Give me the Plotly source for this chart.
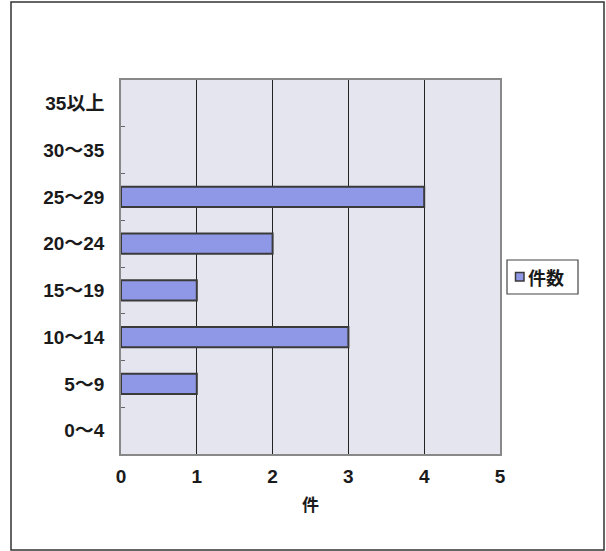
import plotly.graph_objects as go

categories = ["0～4", "5～9", "10～14", "15～19", "20～24", "25～29", "30～35", "35以上"]
counts = [0, 1, 3, 1, 2, 4, 0, 0]
x_ticks = [0, 1, 2, 3, 4, 5]
series_name = "件数"
x_title = "件"

W, H = 606, 551
L, R, T, B = 121, 500, 80, 454

font_family = "Liberation Sans, Arial, Noto Sans CJK JP, sans-serif"
bar_color = "#8F98E6"
bar_line = "#3A3A3A"

fig = go.Figure()
fig.add_trace(go.Bar(
    y=categories, x=counts, orientation="h", name=series_name,
    marker=dict(color=bar_color,
                line=dict(color=bar_line, width=[0 if v == 0 else 2 for v in counts])),
    width=0.43, showlegend=False,
))

def px_to_paper_x(px):
    return (px - L) / (R - L)

def px_to_paper_y(py):
    return (B - py) / (B - T)

# chart area border
fig.add_shape(type="rect", xref="paper", yref="paper",
              x0=px_to_paper_x(11), x1=px_to_paper_x(604),
              y0=px_to_paper_y(550), y1=px_to_paper_y(2),
              line=dict(color="#333333", width=1.5), layer="below")

# legend box (drawn manually to match the compact Excel legend)
fig.add_shape(type="rect", xref="paper", yref="paper",
              x0=px_to_paper_x(507), x1=px_to_paper_x(578),
              y0=px_to_paper_y(294), y1=px_to_paper_y(260),
              line=dict(color="#444444", width=1.2), fillcolor="white")
fig.add_shape(type="rect", xref="paper", yref="paper",
              x0=px_to_paper_x(515.5), x1=px_to_paper_x(524),
              y0=px_to_paper_y(281), y1=px_to_paper_y(272.5),
              line=dict(color=bar_line, width=1.5), fillcolor=bar_color)
fig.add_annotation(xref="paper", yref="paper",
                   x=px_to_paper_x(526), y=px_to_paper_y(277),
                   xanchor="left", yanchor="middle", showarrow=False,
                   text=series_name,
                   font=dict(family="Noto Sans CJK JP", size=18, color="#1a1a1a", weight="bold"))

tick_font = dict(size=19, color="#1a1a1a", weight="bold")

fig.update_layout(
    width=W, height=H,
    margin=dict(l=L, r=W - R, t=T, b=H - B),
    paper_bgcolor="white",
    plot_bgcolor="#E5E5EF",
    font=dict(family=font_family, size=19, color="#1a1a1a"),
    showlegend=False,
    xaxis=dict(
        range=[0, 5], tickvals=x_ticks, ticktext=[str(v) for v in x_ticks],
        showgrid=True, gridcolor="#222222", gridwidth=1,
        zeroline=False, showline=True, linecolor="#888888", linewidth=1.5,
        mirror=True, ticks="", ticklabelstandoff=4,
        tickfont=tick_font,
        title=dict(text=x_title, font=dict(family="Noto Sans CJK JP", size=17,
                                             color="#1a1a1a", weight="bold"), standoff=14),
        fixedrange=True,
    ),
    yaxis=dict(
        categoryorder="array", categoryarray=categories,
        showgrid=False, zeroline=False, showline=True, linecolor="#888888",
        linewidth=1.5, mirror=True,
        ticks="inside", ticklen=4, tickcolor="#666666", tickson="boundaries",
        ticklabelstandoff=11,
        tickfont=tick_font,
        fixedrange=True,
    ),
)

fig.write_html("out.html")
